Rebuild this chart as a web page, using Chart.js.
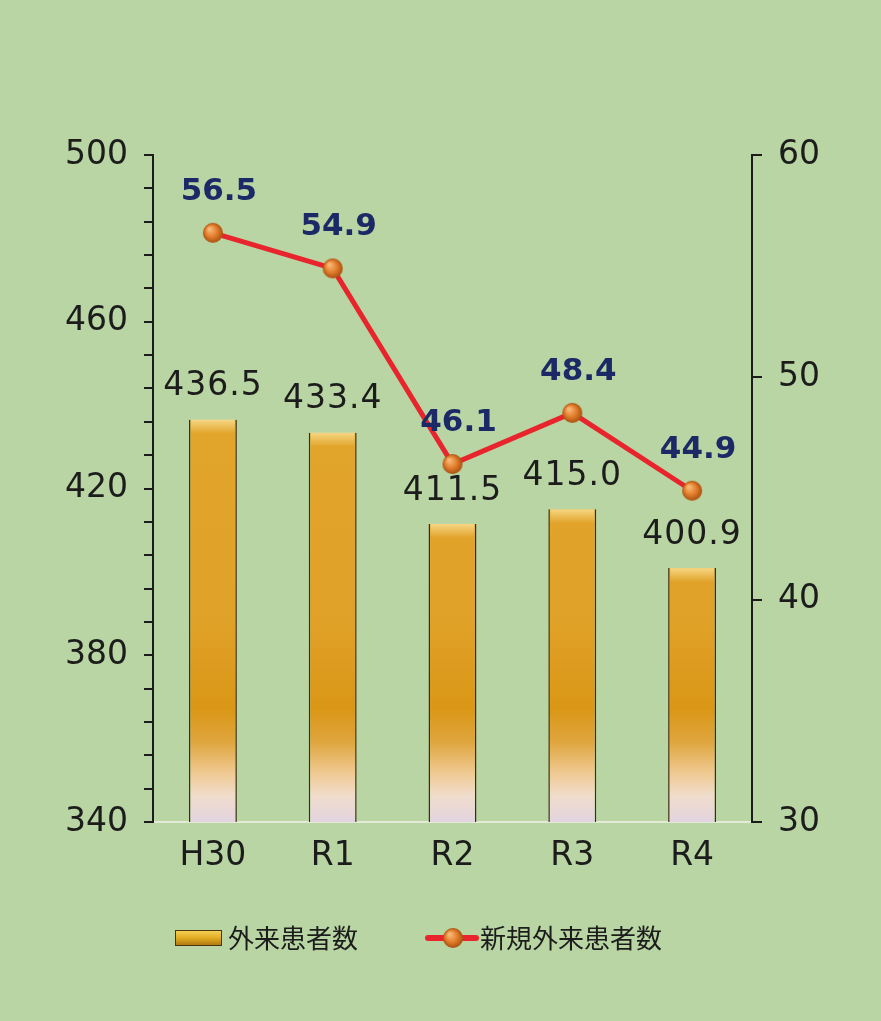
<!DOCTYPE html>
<html lang="ja">
<head>
<meta charset="utf-8">
<title>外来患者数の推移</title>
<script src="https://cdn.jsdelivr.net/npm/chart.js@4.4.1/dist/chart.umd.min.js"></script>
<style>
  html, body { margin: 0; padding: 0; background: #b8d5a3; }
  #wrap { width: 881px; height: 1021px; }
</style>
</head>
<body>
<div id="wrap"><canvas id="chart" width="881" height="1021"></canvas></div>
<script>
/* 外来患者数 / 新規外来患者数 — combo chart */

// --- Data ---
const years = ['H30', 'R1', 'R2', 'R3', 'R4'];
const outpatients = [436.5, 433.4, 411.5, 415.0, 400.9];   // 外来患者数 (left axis)
const newOutpatients = [56.5, 54.9, 46.1, 48.4, 44.9];    // 新規外来患者数 (right axis)
const leftTicks = [340, 380, 420, 460, 500];
const rightTicks = [30, 40, 50, 60];

const TEXT = '#1c1c1c';
const NAVY = '#1b2a66';
const LATIN = '"DejaVu Sans", sans-serif';
const CJK = '"Noto Sans CJK JP", sans-serif';

// --- Helpers ---

// small shaded orange ball used for line points and legend
function makeBall(r) {
    const c = document.createElement('canvas');
    c.width = c.height = r * 2 + 2;
    const g = c.getContext('2d');
    const cx = r + 1, cy = r + 1;
    const grad = g.createRadialGradient(cx - r * 0.35, cy - r * 0.4, r * 0.1, cx, cy, r);
    grad.addColorStop(0, '#f8b877');
    grad.addColorStop(0.55, '#e27d2c');
    grad.addColorStop(1, '#a9500f');
    g.fillStyle = grad;
    g.beginPath();
    g.arc(cx, cy, r, 0, Math.PI * 2);
    g.fill();
    return c;
}
const ball = makeBall(10);

function barFill(ctx) {
    const area = ctx.chart.chartArea;
    if (!area) return '#e0a52a';
    const g = ctx.chart.ctx.createLinearGradient(0, area.top, 0, area.bottom);
    g.addColorStop(0, '#e5aa30');
    g.addColorStop(0.7, '#e0a128');
    g.addColorStop(0.83, '#da9716');
    g.addColorStop(0.88, '#dfa63e');
    g.addColorStop(0.925, '#efc88f');
    g.addColorStop(0.96, '#f0dccb');
    g.addColorStop(1, '#e2d4e0');
    return g;
}

// --- Plugins ---

const background = {
    id: 'background',
    beforeDraw(chart) {
        const { ctx, width, height } = chart;
        ctx.save();
        ctx.fillStyle = '#b8d5a3';
        ctx.fillRect(0, 0, width, height);
        ctx.restore();
    }
};

const valueLabels = {
    id: 'valueLabels',
    afterDatasetsDraw(chart) {
        const ctx = chart.ctx;
        ctx.save();
        ctx.textAlign = 'center';
        ctx.textBaseline = 'middle';

        // bevel highlight on top of each bar
        chart.getDatasetMeta(1).data.forEach(bar => {
            const w = bar.width;
            const g = ctx.createLinearGradient(0, bar.y, 0, bar.y + 14);
            g.addColorStop(0, 'rgba(255,236,170,0.7)');
            g.addColorStop(1, 'rgba(255,236,170,0)');
            ctx.fillStyle = g;
            ctx.fillRect(bar.x - w / 2 + 2, bar.y, w - 4, 14);
        });

        ctx.font = '33px ' + LATIN;
        ctx.letterSpacing = '1px';
        ctx.fillStyle = TEXT;
        chart.getDatasetMeta(1).data.forEach((bar, i) => {
            ctx.fillText(outpatients[i].toFixed(1), bar.x, bar.y - 33);
        });

        ctx.font = 'bold 31px ' + LATIN;
        ctx.letterSpacing = '0px';
        ctx.fillStyle = NAVY;
        chart.getDatasetMeta(0).data.forEach((pt, i) => {
            ctx.fillText(newOutpatients[i].toFixed(1), pt.x + 6, pt.y - 41);
        });
        ctx.restore();
    }
};

const legendRow = {
    id: 'legendRow',
    afterDraw(chart) {
        const ctx = chart.ctx;
        const y = 938;
        const sets = chart.data.datasets;
        ctx.save();
        ctx.textBaseline = 'middle';
        ctx.textAlign = 'left';
        ctx.font = '26px ' + CJK;

        // bar swatch
        const g = ctx.createLinearGradient(0, y - 7, 0, y + 7);
        g.addColorStop(0, '#f3cf55');
        g.addColorStop(0.5, '#e2ac22');
        g.addColorStop(1, '#b07a10');
        ctx.fillStyle = '#4a3410';
        ctx.fillRect(175, y - 8, 47, 16);
        ctx.fillStyle = g;
        ctx.fillRect(176, y - 7, 45, 14);
        ctx.fillStyle = TEXT;
        ctx.fillText(sets[1].label, 228, y);

        // line swatch
        ctx.strokeStyle = '#e8252d';
        ctx.lineWidth = 6;
        ctx.lineCap = 'round';
        ctx.beginPath();
        ctx.moveTo(428, y);
        ctx.lineTo(476, y);
        ctx.stroke();
        ctx.drawImage(ball, 453 - ball.width / 2, y - ball.height / 2);
        ctx.fillText(sets[0].label, 480, y);
        ctx.restore();
    }
};

// --- Chart ---

new Chart(document.getElementById('chart'), {
    data: {
        labels: years,
        datasets: [
            {
                type: 'line',
                label: '新規外来患者数',
                data: newOutpatients,
                yAxisID: 'y2',
                order: 0,
                borderColor: '#e8252d',
                borderWidth: 5,
                tension: 0,
                pointStyle: ball,
                pointRadius: 10,
            },
            {
                type: 'bar',
                label: '外来患者数',
                data: outpatients,
                yAxisID: 'y',
                order: 1,
                backgroundColor: barFill,
                borderColor: '#3e2c0e',
                borderWidth: { left: 1.5, right: 1.5, top: 0, bottom: 0 },
                borderSkipped: false,
                barPercentage: 0.4,
                categoryPercentage: 1,
            }
        ]
    },
    options: {
        responsive: false,
        animation: false,
        devicePixelRatio: 1,
        layout: { padding: { top: 155, bottom: 139, left: 0, right: 0 } },
        plugins: {
            legend: { display: false },
            tooltip: { enabled: false },
        },
        scales: {
            x: {
                offset: true,
                grid: { display: false, drawTicks: false },
                border: { display: true, color: '#e3ebd6', width: 2 },
                ticks: { color: TEXT, font: { family: LATIN, size: 33 }, padding: 15 },
                afterFit(s) { s.height = 60; },
            },
            y: {
                position: 'left',
                min: 340,
                max: 500,
                ticks: {
                    stepSize: 8,
                    autoSkip: false,
                    color: TEXT,
                    padding: 16,
                    font: { family: LATIN, size: 33 },
                    callback: v => leftTicks.includes(v) ? String(v) : '',
                },
                grid: { drawOnChartArea: false, tickLength: 9, color: TEXT, lineWidth: 2 },
                border: { color: TEXT, width: 2 },
                afterFit(s) { s.width = 153; },
            },
            y2: {
                position: 'right',
                min: 30,
                max: 60,
                ticks: {
                    stepSize: 10,
                    color: TEXT,
                    padding: 16,
                    font: { family: LATIN, size: 33 },
                    callback: v => rightTicks.includes(v) ? String(v) : '',
                },
                grid: { drawOnChartArea: false, tickLength: 10, color: TEXT, lineWidth: 2 },
                border: { color: TEXT, width: 2 },
                afterFit(s) { s.width = 129; },
            }
        }
    },
    plugins: [background, valueLabels, legendRow]
});
</script>
</body>
</html>
